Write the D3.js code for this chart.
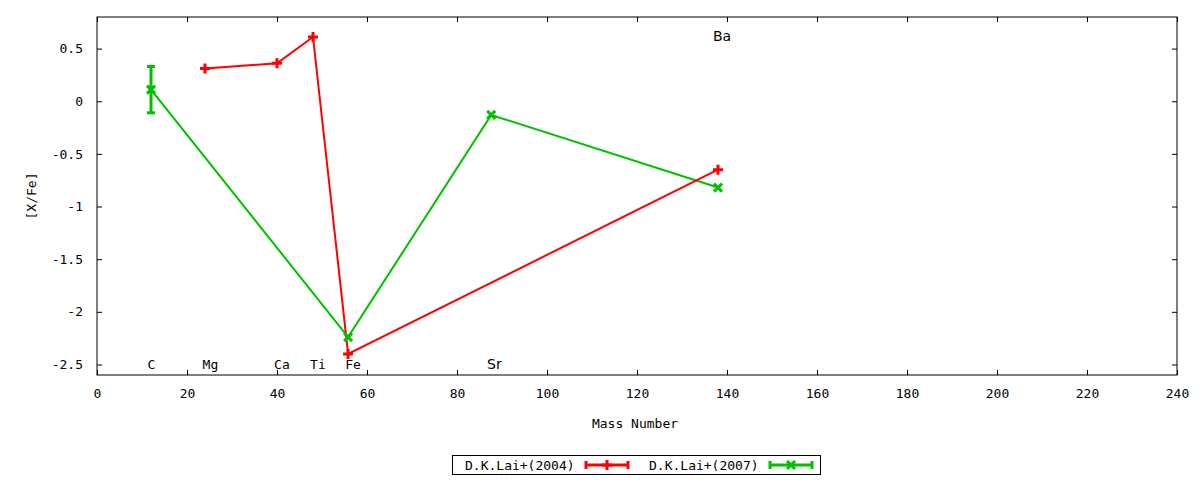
<!DOCTYPE html>
<html>
<head>
<meta charset="utf-8">
<script src="https://cdn.jsdelivr.net/npm/d3@7"></script>
<style>
  body { margin: 0; background: #fff; }
  text { font-family: "DejaVu Sans Mono", monospace; font-size: 13px; fill: #000; }
</style>
</head>
<body>
<div id="chart"></div>
<script>
// data: [X/Fe] against mass number
var lai2004Mass = [24, 40, 48, 55.8, 138];
var lai2004Val = [0.31, 0.36, 0.61, -2.40, -0.65];

var lai2007Mass = [12, 55.8, 87.6, 138];
var lai2007Val = [0.11, -2.24, -0.13, -0.82];
var lai2007Err = [0.22, 0, 0, 0];

var elemNames = ["C", "Mg", "Ca", "Ti", "Fe", "Sr", "Ba"];
var elemX = [12.1, 25.2, 41.1, 49.1, 56.9, 88.3, 138.9];
var elemY = [-2.5, -2.5, -2.5, -2.5, -2.5, -2.5, 0.62];

var xTicks = d3.range(0, 241, 20);
var yTicks = [0.5, 0, -0.5, -1, -1.5, -2, -2.5];

var seriesNames = ["D.K.Lai+(2004)", "D.K.Lai+(2007)"];

// set the dimensions and margins of the graph
var margin = { top: 17, right: 23, bottom: 105, left: 97 },
    width = 1200 - margin.left - margin.right,
    height = 480 - margin.top - margin.bottom;

var svg = d3.select("#chart")
    .append("svg")
    .attr("width", 1200)
    .attr("height", 480);

var g = svg.append("g")
    .attr("transform", "translate(" + margin.left + "," + margin.top + ")");

var x = d3.scaleLinear().domain([0, 240]).range([0, width]);
var y = d3.scaleLinear().domain([-2.6, 0.8]).range([height, 0]);

// plain labels, hyphen for minus like gnuplot
var plain = function (d) { return String(d); };

// axes: ticks point inwards, mirrored on top and right
var tick = 5;
g.append("g")
    .attr("transform", "translate(0," + height + ")")
    .call(d3.axisBottom(x).tickValues(xTicks).tickFormat(plain).tickSizeInner(-tick).tickSizeOuter(0).tickPadding(14))
    .call(function (a) { a.select(".domain").remove(); });
g.append("g")
    .call(d3.axisTop(x).tickValues(xTicks).tickSizeInner(-tick).tickSizeOuter(0).tickFormat(""))
    .call(function (a) { a.select(".domain").remove(); });
g.append("g")
    .call(d3.axisLeft(y).tickValues(yTicks).tickFormat(plain).tickSizeInner(-tick).tickSizeOuter(0).tickPadding(14))
    .call(function (a) { a.select(".domain").remove(); });
g.append("g")
    .attr("transform", "translate(" + width + ",0)")
    .call(d3.axisRight(y).tickValues(yTicks).tickSizeInner(-tick).tickSizeOuter(0).tickFormat(""))
    .call(function (a) { a.select(".domain").remove(); });

g.selectAll(".tick text")
    .style("font-family", "'DejaVu Sans Mono', monospace")
    .style("font-size", "13px");
g.selectAll(".tick line").attr("stroke", "#000");

g.append("rect")
    .attr("width", width)
    .attr("height", height)
    .attr("fill", "none")
    .attr("stroke", "#000")
    .attr("stroke-width", 1);

// axis titles
svg.append("text")
    .attr("x", 635)
    .attr("y", 428)
    .attr("text-anchor", "middle")
    .text("Mass Number");
svg.append("text")
    .attr("transform", "translate(36,196) rotate(-90)")
    .attr("text-anchor", "middle")
    .text("[X/Fe]");

// element labels
g.selectAll(".elem")
    .data(elemNames)
    .enter()
    .append("text")
    .attr("class", "elem")
    .attr("x", function (d, i) { return x(elemX[i]); })
    .attr("y", function (d, i) { return y(elemY[i]); })
    .attr("dy", "0.35em")
    .attr("text-anchor", "middle")
    .style("font-family", function (d) {
        return (d == "Sr" || d == "Ba") ? "'DejaVu Sans', sans-serif" : null;
    })
    .style("font-size", function (d) {
        return (d == "Sr" || d == "Ba") ? "14px" : null;
    })
    .text(function (d) { return d; });

var red = "#ff0000", green = "#00c000";

var plusPath = function (s) {
    return "M" + (-s) + ",0H" + s + "M0," + (-s) + "V" + s;
};
var crossPath = function (s) {
    return "M" + (-s) + "," + (-s) + "L" + s + "," + s + "M" + (-s) + "," + s + "L" + s + "," + (-s);
};

var line = d3.line()
    .x(function (d) { return x(d[0]); })
    .y(function (d) { return y(d[1]); });

var red2004 = lai2004Mass.map(function (m, i) { return [m, lai2004Val[i]]; });
var green2007 = lai2007Mass.map(function (m, i) { return [m, lai2007Val[i], lai2007Err[i]]; });

g.append("path")
    .datum(green2007)
    .attr("d", line)
    .attr("fill", "none")
    .attr("stroke", green)
    .attr("stroke-width", 2);

g.append("path")
    .datum(red2004)
    .attr("d", line)
    .attr("fill", "none")
    .attr("stroke", red)
    .attr("stroke-width", 2);

// error bars
var bars = g.append("g").selectAll("g")
    .data(green2007.filter(function (d) { return d[2] > 0; }))
    .enter()
    .append("g")
    .attr("stroke", green)
    .attr("stroke-width", 3);
bars.append("line")
    .attr("x1", function (d) { return x(d[0]); })
    .attr("x2", function (d) { return x(d[0]); })
    .attr("y1", function (d) { return y(d[1] + d[2]); })
    .attr("y2", function (d) { return y(d[1] - d[2]); });
[1, -1].forEach(function (sgn) {
    bars.append("line")
        .attr("x1", function (d) { return x(d[0]) - 4; })
        .attr("x2", function (d) { return x(d[0]) + 4; })
        .attr("y1", function (d) { return y(d[1] + sgn * d[2]); })
        .attr("y2", function (d) { return y(d[1] + sgn * d[2]); });
});

// markers
g.append("g").selectAll("path")
    .data(red2004)
    .enter()
    .append("path")
    .attr("transform", function (d) { return "translate(" + x(d[0]) + "," + y(d[1]) + ")"; })
    .attr("d", plusPath(5))
    .attr("stroke", red)
    .attr("stroke-width", 3);

g.append("g").selectAll("path")
    .data(green2007)
    .enter()
    .append("path")
    .attr("transform", function (d) { return "translate(" + x(d[0]) + "," + y(d[1]) + ")"; })
    .attr("d", crossPath(4))
    .attr("stroke", green)
    .attr("stroke-width", 3);

// legend
var legend = svg.append("g");
legend.append("rect")
    .attr("x", 452.5)
    .attr("y", 455.5)
    .attr("width", 368)
    .attr("height", 19)
    .attr("fill", "#fff")
    .attr("stroke", "#000");

var legendItems = [
    { name: seriesNames[0], color: red, marker: plusPath(5), tx: 465, x0: 586, x1: 628 },
    { name: seriesNames[1], color: green, marker: crossPath(4), tx: 649, x0: 770, x1: 812 }
];
legendItems.forEach(function (it) {
    var ly = 465;
    legend.append("text")
        .attr("x", it.tx)
        .attr("y", ly)
        .attr("dy", "0.35em")
        .text(it.name);
    var s = legend.append("g").attr("stroke", it.color).attr("stroke-width", 3);
    s.append("line").attr("x1", it.x0).attr("x2", it.x1).attr("y1", ly).attr("y2", ly);
    s.append("line").attr("x1", it.x0).attr("x2", it.x0).attr("y1", ly - 4).attr("y2", ly + 4);
    s.append("line").attr("x1", it.x1).attr("x2", it.x1).attr("y1", ly - 4).attr("y2", ly + 4);
    s.append("path")
        .attr("transform", "translate(" + ((it.x0 + it.x1) / 2) + "," + ly + ")")
        .attr("d", it.marker);
});
</script>
</body>
</html>
